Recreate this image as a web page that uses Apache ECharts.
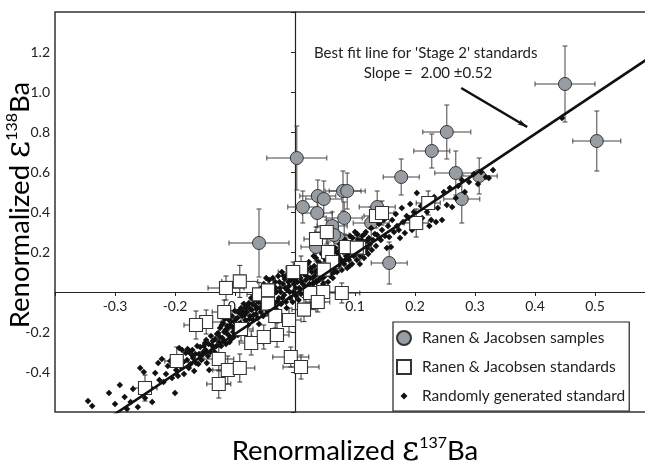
<!DOCTYPE html>
<html>
<head>
<meta charset="utf-8">
<script src="https://cdn.jsdelivr.net/npm/echarts@6/dist/echarts.min.js"></script>
<style>
  html, body { margin: 0; padding: 0; background: #fff; }
  #chart { width: 645px; height: 468px; }
</style>
</head>
<body>
<div id="chart"></div>
<script>
// samples: [x, y, xErr, yErr]
var samples = [
  [0.450, 1.040, 0.050, 0.190], [0.503, 0.755, 0.040, 0.150], [0.253, 0.800, 0.040, 0.135],
  [0.228, 0.705, 0.030, 0.085], [0.177, 0.575, 0.030, 0.090], [0.268, 0.595, 0.035, 0.110],
  [0.307, 0.580, 0.030, 0.090], [0.278, 0.465, 0.030, 0.120], [0.157, 0.145, 0.030, 0.105],
  [0.003, 0.670, 0.050, 0.160], [0.013, 0.425, 0.025, 0.080], [0.038, 0.480, 0.030, 0.080],
  [0.048, 0.465, 0.030, 0.090], [0.037, 0.395, 0.025, 0.070], [0.080, 0.505, 0.030, 0.100],
  [0.087, 0.505, 0.030, 0.090], [0.082, 0.370, 0.030, 0.080], [0.062, 0.330, 0.025, 0.070],
  [-0.060, 0.245, 0.050, 0.170], [0.072, 0.270, 0.030, 0.080], [0.127, 0.345, 0.030, 0.080],
  [0.137, 0.425, 0.030, 0.080], [0.035, 0.225, 0.025, 0.070], [0.065, 0.285, 0.025, 0.070]
];

// standards: [x, y, xErr, yErr]
var standards = [
  [0.135, 0.380, 0.020, 0.060], [0.145, 0.395, 0.020, 0.060], [0.222, 0.445, 0.020, 0.060],
  [0.202, 0.345, 0.020, 0.070], [0.107, 0.220, 0.020, 0.060], [0.035, 0.265, 0.020, 0.060],
  [0.053, 0.300, 0.020, 0.060], [0.055, 0.200, 0.020, 0.050], [0.085, 0.225, 0.020, 0.060],
  [0.103, 0.222, 0.020, 0.060], [0.062, 0.150, 0.020, 0.060], [0.048, 0.112, 0.020, 0.060],
  [0.010, 0.120, 0.025, 0.060], [-0.003, 0.100, 0.025, 0.050], [-0.115, 0.020, 0.030, 0.060],
  [-0.092, 0.053, 0.030, 0.080], [-0.060, -0.012, 0.020, 0.060], [-0.045, 0.008, 0.020, 0.050],
  [-0.045, -0.058, 0.020, 0.060], [0.025, -0.005, 0.020, 0.050], [0.047, 0.000, 0.020, 0.050],
  [0.078, -0.005, 0.030, 0.050], [0.038, -0.050, 0.020, 0.050], [0.015, -0.088, 0.020, 0.060],
  [-0.010, -0.140, 0.020, 0.060], [-0.033, -0.120, 0.020, 0.060], [-0.118, -0.100, 0.020, 0.060],
  [-0.148, -0.150, 0.025, 0.060], [-0.165, -0.165, 0.020, 0.070], [-0.090, -0.185, 0.020, 0.060],
  [-0.073, -0.255, 0.020, 0.060], [-0.052, -0.225, 0.020, 0.060], [-0.030, -0.215, 0.020, 0.060],
  [-0.197, -0.345, 0.020, 0.070], [-0.127, -0.335, 0.025, 0.060], [-0.112, -0.390, 0.025, 0.070],
  [-0.092, -0.380, 0.025, 0.070], [-0.127, -0.460, 0.020, 0.070], [-0.250, -0.480, 0.020, 0.065],
  [-0.007, -0.325, 0.030, 0.050], [0.010, -0.375, 0.030, 0.060]
];

// randomly generated standards
var randomPts = [
  [-0.345,-0.545],[-0.338,-0.57],[-0.31,-0.505],[-0.3,-0.56],[-0.292,-0.465],[-0.284,-0.525],
  [-0.28,-0.585],[-0.274,-0.55],[-0.27,-0.485],[-0.262,-0.575],[-0.258,-0.38],[-0.252,-0.4],
  [-0.25,-0.53],[-0.245,-0.47],[-0.24,-0.48],[-0.238,-0.55],[-0.233,-0.405],[-0.228,-0.355],
  [-0.226,-0.44],[-0.222,-0.335],[-0.219,-0.45],[-0.215,-0.41],[-0.212,-0.37],[-0.208,-0.345],
  [-0.205,-0.43],[-0.2,-0.505],[-0.198,-0.39],[-0.195,-0.42],
  [-0.193,-0.28],[-0.19,-0.375],[-0.188,-0.29],[-0.185,-0.41],[-0.182,-0.305],[-0.18,-0.34],
  [-0.177,-0.3],[-0.177,-0.38],[-0.174,-0.36],[-0.172,-0.315],[-0.17,-0.33],[-0.168,-0.395],
  [-0.165,-0.355],[-0.163,-0.27],[-0.16,-0.31],[-0.158,-0.275],[-0.156,-0.34],[-0.153,-0.3],
  [-0.15,-0.255],[-0.148,-0.24],[-0.147,-0.355],[-0.145,-0.32],[-0.143,-0.39],[-0.14,-0.22],
  [-0.139,-0.265],[-0.136,-0.28],[-0.134,-0.3],[-0.132,-0.33],[-0.13,-0.21],
  [-0.186,-0.35],[-0.179,-0.285],[-0.171,-0.29],[-0.166,-0.31],[-0.161,-0.36],[-0.157,-0.32],
  [-0.152,-0.27],[-0.149,-0.29],[-0.144,-0.26],[-0.141,-0.3],[-0.137,-0.245],[-0.133,-0.235],
  [-0.131,-0.27],
  [-0.128,-0.205],[-0.127,-0.25],[-0.125,-0.18],[-0.123,-0.27],[-0.121,-0.23],[-0.12,-0.155],
  [-0.118,-0.2],[-0.116,-0.19],[-0.115,-0.26],[-0.113,-0.17],[-0.111,-0.215],[-0.11,-0.14],
  [-0.108,-0.165],[-0.106,-0.235],[-0.105,-0.12],[-0.103,-0.2],[-0.101,-0.15],[-0.1,-0.095],
  [-0.098,-0.175],[-0.096,-0.13],[-0.095,-0.215],[-0.093,-0.105],[-0.091,-0.155],[-0.09,-0.08],
  [-0.088,-0.12],[-0.086,-0.19],[-0.085,-0.06],[-0.083,-0.14],[-0.082,-0.08],[-0.08,-0.1],
  [-0.078,-0.165],[-0.077,-0.055],[-0.075,-0.12],[-0.073,-0.03],[-0.072,-0.09],[-0.07,-0.14],
  [-0.068,-0.04],[-0.066,-0.07],[-0.065,-0.11],[-0.063,-0.01],[-0.061,-0.05],[-0.06,-0.16],
  [-0.058,-0.08],[-0.056,0.02],[-0.055,-0.03],[-0.053,-0.12],[-0.052,0.04],[-0.05,-0.06],
  [-0.125,-0.225],[-0.122,-0.165],[-0.119,-0.245],[-0.117,-0.135],[-0.114,-0.205],[-0.112,-0.18],
  [-0.109,-0.25],[-0.107,-0.145],[-0.104,-0.175],[-0.102,-0.225],[-0.099,-0.135],[-0.097,-0.195],
  [-0.094,-0.16],[-0.092,-0.09],[-0.089,-0.175],[-0.087,-0.1],[-0.084,-0.115],[-0.081,-0.155],
  [-0.079,-0.07],[-0.076,-0.135],[-0.074,-0.085],[-0.071,-0.06],[-0.069,-0.115],[-0.067,-0.02],
  [-0.064,-0.085],[-0.062,-0.13],[-0.059,-0.035],[-0.057,-0.1],[-0.054,-0.06],[-0.051,0.01],
  [-0.048,0.07],[-0.047,-0.02],[-0.046,-0.1],[-0.044,0.01],[-0.043,0.06],[-0.041,-0.04],
  [-0.04,-0.075],[-0.038,0.03],[-0.036,-0.01],[-0.035,-0.055],[-0.033,0.05],[-0.031,0.0],
  [-0.03,-0.09],[-0.028,0.08],[-0.027,-0.03],[-0.025,0.02],[-0.023,-0.06],[-0.022,0.1],
  [-0.02,0.04],[-0.018,-0.015],[-0.017,0.065],[-0.015,-0.05],[-0.013,0.01],[-0.012,0.09],
  [-0.01,0.03],[-0.008,-0.03],[-0.007,0.06],[-0.005,0.12],[-0.003,0.0],[-0.002,0.04],
  [-0.049,-0.08],[-0.046,-0.04],[-0.042,0.03],[-0.039,-0.02],[-0.037,0.07],[-0.034,-0.07],
  [-0.032,0.02],[-0.029,-0.045],[-0.026,0.05],[-0.024,0.0],[-0.021,-0.03],[-0.019,0.08],
  [-0.016,0.02],[-0.014,-0.08],[-0.011,0.05],[-0.009,0.0],[-0.006,0.09],[-0.004,-0.05],
  [0.0,0.08],[0.002,-0.02],[0.004,0.05],[0.005,0.1],[0.007,0.02],[0.009,0.07],
  [0.01,-0.01],[0.012,0.13],[0.013,0.04],[0.015,0.09],[0.017,0.0],[0.018,0.06],
  [0.02,0.11],[0.022,0.03],[0.023,0.15],[0.025,0.07],[0.027,-0.02],[0.028,0.1],
  [0.03,0.04],[0.032,0.13],[0.033,0.08],[0.035,0.17],[0.037,0.02],[0.038,0.11],
  [0.04,0.06],[0.042,0.14],[0.043,0.09],[0.045,0.19],[0.047,0.04],[0.048,0.12],
  [-0.001,0.06],[0.001,0.02],[0.003,0.13],[0.006,-0.04],[0.008,0.09],[0.011,0.05],
  [0.014,0.11],[0.016,0.03],[0.019,0.08],[0.021,0.14],[0.024,0.04],[0.026,0.12],
  [0.029,0.07],[0.031,0.18],[0.034,0.1],[0.036,0.05],[0.039,0.15],[0.041,0.09],
  [0.044,0.13],[0.046,0.07],[0.049,0.17],
  [0.05,0.08],[0.052,0.16],[0.054,0.1],[0.055,0.05],[0.057,0.2],[0.058,0.13],
  [0.06,0.09],[0.062,0.17],[0.063,0.07],[0.065,0.12],[0.067,0.22],[0.068,0.15],
  [0.07,0.1],[0.072,0.18],[0.073,0.13],[0.075,0.24],[0.077,0.16],[0.078,0.11],
  [0.08,0.2],[0.082,0.14],[0.083,0.26],[0.085,0.18],[0.087,0.12],[0.088,0.22],
  [0.09,0.16],[0.092,0.28],[0.093,0.2],[0.095,0.14],[0.097,0.24],[0.098,0.18],
  [0.1,0.3],[0.102,0.21],[0.103,0.16],[0.105,0.26],[0.107,0.19],[0.108,0.14],
  [0.11,0.23],[0.112,0.28],[0.113,0.2],[0.115,0.17],[0.117,0.25],[0.118,0.3],
  [0.12,0.22],[0.122,0.19],[0.123,0.27],[0.125,0.24],[0.127,0.32],[0.128,0.21],[0.13,0.26],
  [0.051,0.11],[0.053,0.21],[0.056,0.14],[0.059,0.08],[0.061,0.19],[0.064,0.15],
  [0.066,0.1],[0.069,0.2],[0.071,0.14],[0.074,0.17],[0.076,0.21],[0.079,0.15],
  [0.081,0.23],[0.084,0.16],[0.086,0.25],[0.089,0.19],[0.091,0.13],[0.094,0.23],
  [0.096,0.27],[0.099,0.2],[0.101,0.24],[0.104,0.29],[0.106,0.22],[0.109,0.18],
  [0.111,0.26],[0.114,0.23],[0.116,0.29],[0.119,0.2],[0.121,0.26],
  [0.133,0.29],[0.135,0.23],[0.137,0.285],[0.14,0.34],[0.143,0.26],[0.145,0.31],
  [0.148,0.36],[0.15,0.28],[0.153,0.22],[0.155,0.33],[0.157,0.275],[0.16,0.225],
  [0.162,0.36],[0.165,0.3],[0.168,0.39],[0.17,0.33],[0.173,0.31],[0.175,0.27],
  [0.178,0.42],[0.18,0.35],[0.183,0.295],[0.186,0.38],[0.19,0.37],[0.192,0.44],
  [0.195,0.31],[0.198,0.4],[0.203,0.495],[0.206,0.35],[0.21,0.43],[0.212,0.37],
  [0.216,0.46],[0.22,0.4],[0.224,0.33],[0.227,0.36],[0.232,0.475],[0.235,0.35],
  [0.238,0.42],[0.245,0.36],[0.248,0.5],[0.253,0.435],[0.258,0.52],[0.262,0.425],
  [0.268,0.47],[0.272,0.53],[0.278,0.56],[0.283,0.5],[0.29,0.55],[0.298,0.59],
  [0.305,0.54],[0.31,0.6],[0.318,0.575],[0.323,0.57],[0.33,0.61],[0.445,0.87]
];

// best fit line for 'Stage 2' standards
var fitSlope = 2.00;
var fitIntercept = -0.01;
var fitX = [-0.4, 0.6];
var arrowPts = [[0.277, 1.02], [0.387, 0.825]];

var xTicks = [-0.3, -0.2, -0.1, 0.1, 0.2, 0.3, 0.4, 0.5];
var yTicks = [-0.4, -0.2, 0.2, 0.4, 0.6, 0.8, 1.0, 1.2];

var FONT = 'Lato';

function hasTick(list, v) {
  return list.some(function (t) { return Math.abs(t - v) < 1e-6; });
}

function errorBars(color) {
  return function (params, api) {
    var x = api.value(0), y = api.value(1), ex = api.value(2), ey = api.value(3);
    var c = api.coord([x, y]);
    var l = api.coord([x - ex, y])[0], r = api.coord([x + ex, y])[0];
    var t = api.coord([x, y + ey])[1], b = api.coord([x, y - ey])[1];
    var cap = 2.5;
    var st = { stroke: color, lineWidth: 1 };
    return {
      type: 'group',
      children: [
        { type: 'line', shape: { x1: l, y1: c[1], x2: r, y2: c[1] }, style: st },
        { type: 'line', shape: { x1: l, y1: c[1] - cap, x2: l, y2: c[1] + cap }, style: st },
        { type: 'line', shape: { x1: r, y1: c[1] - cap, x2: r, y2: c[1] + cap }, style: st },
        { type: 'line', shape: { x1: c[0], y1: t, x2: c[0], y2: b }, style: st },
        { type: 'line', shape: { x1: c[0] - cap, y1: t, x2: c[0] + cap, y2: t }, style: st },
        { type: 'line', shape: { x1: c[0] - cap, y1: b, x2: c[0] + cap, y2: b }, style: st }
      ]
    };
  };
}

var fitLine = fitX.map(function (x) { return [x, fitSlope * x + fitIntercept]; });

var titleRich = {
  a: { fontFamily: FONT, fontSize: 27.5, color: '#222' },
  e: { fontFamily: 'DejaVu Serif', fontSize: 33, color: '#222' },
  s: { fontFamily: FONT, fontSize: 16, color: '#222', verticalAlign: 'top', padding: [0, 0, 15, 0] }
};

var chart = echarts.init(document.getElementById('chart'));
var option = {
  animation: false,
  grid: {
    left: 55, top: 12, width: 600, height: 400,
    outerBoundsMode: 'none', containLabel: false,
    show: true, borderColor: '#333', borderWidth: 1.5
  },
  xAxis: {
    type: 'value', min: -0.4, max: 0.6, interval: 0.1,
    position: 'bottom', offset: -120,
    axisLine: { onZero: false, lineStyle: { color: '#222', width: 1.2 } },
    axisTick: { show: true, length: 4, lineStyle: { color: '#222' } },
    axisLabel: {
      margin: 7, fontFamily: FONT, fontSize: 14, color: '#222',
      formatter: function (v) { return hasTick(xTicks, v) ? v.toFixed(1) : ''; }
    },
    splitLine: { show: false }
  },
  yAxis: {
    type: 'value', min: -0.6, max: 1.4, interval: 0.2,
    axisLine: { onZero: true, lineStyle: { color: '#222', width: 1.2 } },
    axisTick: { show: true, length: 4, lineStyle: { color: '#222' } },
    axisLabel: {
      margin: 5, fontFamily: FONT, fontSize: 14, color: '#222',
      formatter: function (v) { return hasTick(yTicks, v) ? v.toFixed(1) : ''; }
    },
    splitLine: { show: false }
  },
  legend: {
    orient: 'vertical', left: 393, top: 322,
    padding: [8, 4, 7, 3], itemGap: 13, itemWidth: 26, itemHeight: 14,
    borderColor: '#222', borderWidth: 1.2, borderRadius: 0,
    textStyle: { fontFamily: FONT, fontSize: 15.5, color: '#222' },
    data: [
      { name: 'Ranen & Jacobsen samples', icon: 'circle' },
      { name: 'Ranen & Jacobsen standards', icon: 'path://M0,0L14,0L14,14L0,14Z' },
      { name: 'Randomly generated standard', icon: 'path://M0,0M20,20M10,5L15,10L10,15L5,10Z' }
    ]
  },
  graphic: [
    {
      type: 'text', x: 314, y: 53,
      style: { text: "Best fit line for 'Stage 2' standards", font: '15px ' + FONT, fill: '#222', verticalAlign: 'middle' }
    },
    {
      type: 'text', x: 428, y: 73,
      style: { text: 'Slope =  2.00 \u00b10.52', font: '15px ' + FONT, fill: '#222', align: 'center', verticalAlign: 'middle' }
    },
    {
      type: 'text', x: 355, y: 451,
      style: {
        text: '{a|Renormalized }{e|\u03b5}{s|137}{a|Ba}', rich: titleRich,
        align: 'center', verticalAlign: 'middle'
      }
    },
    {
      type: 'text', x: 20, y: 205, rotation: Math.PI / 2,
      style: {
        text: '{a|Renormalized }{e|\u03b5}{s|138}{a|Ba}', rich: titleRich,
        align: 'center', verticalAlign: 'middle'
      }
    }
  ],
  series: [
    {
      name: 'sampleErr', type: 'custom', renderItem: errorBars('#444'),
      encode: { x: 0, y: 1 }, data: samples, silent: true
    },
    {
      name: 'Ranen & Jacobsen samples', type: 'scatter', symbol: 'circle', symbolSize: 13,
      itemStyle: { color: '#989da4', borderColor: '#333', borderWidth: 1, opacity: 1 },
      data: samples.map(function (d) { return [d[0], d[1]]; })
    },
    {
      name: 'Randomly generated standard', type: 'scatter', symbol: 'diamond', symbolSize: 6.5,
      itemStyle: { color: '#111', opacity: 1 },
      data: randomPts
    },
    {
      name: 'standardErr', type: 'custom', renderItem: errorBars('#333'),
      encode: { x: 0, y: 1 }, data: standards, silent: true
    },
    {
      name: 'Ranen & Jacobsen standards', type: 'scatter', symbol: 'rect', symbolSize: 13,
      itemStyle: { color: '#fff', borderColor: '#333', borderWidth: 1.1, opacity: 1 },
      data: standards.map(function (d) { return [d[0], d[1]]; })
    },
    {
      name: 'fit', type: 'line', data: fitLine, symbol: 'none', clip: true,
      lineStyle: { color: '#111', width: 2.6 }, z: 3,
      markLine: {
        silent: true, symbol: ['none', 'arrow'], symbolSize: [4, 10],
        label: { show: false },
        lineStyle: { color: '#111', width: 2.6, type: 'solid' },
        data: [[{ coord: arrowPts[0] }, { coord: arrowPts[1] }]]
      }
    }
  ]
};
chart.setOption(option);
</script>
</body>
</html>
